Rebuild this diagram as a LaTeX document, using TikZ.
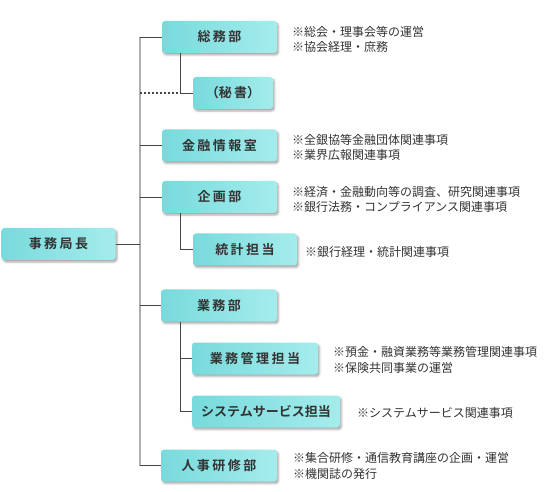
\documentclass[tikz,border=0pt]{standalone}
\usepackage{fontspec}
\newfontfamily\jp[BoldFont={* Bold}]{Noto Sans CJK JP}
\usetikzlibrary{shadows.blur}
\definecolor{boxL}{RGB}{120,218,220}
\definecolor{boxR}{RGB}{165,236,236}
\definecolor{txt}{RGB}{51,51,51}
\definecolor{trunkc}{RGB}{175,175,175}
\definecolor{branchc}{RGB}{70,70,70}
\tikzset{
  orgbox/.style={rounded corners=3pt, left color=boxL, right color=boxR, draw=none,
    minimum height=32pt, inner sep=0pt, text=txt,
    font=\jp\bfseries\fontsize{13}{15}\selectfont,
    blur shadow={shadow xshift=1.5pt, shadow yshift=-2pt, shadow blur radius=2pt, shadow opacity=35}},
  note/.style={anchor=west, align=left, inner sep=0pt, text=txt,
    font=\jp\fontsize{12}{15.5}\selectfont},
  trunk/.style={draw=trunkc, line width=2pt},
  branch/.style={draw=branchc, line width=0.9pt},
  dots/.style={draw=branchc, line width=1.3pt, dash pattern=on 1.6pt off 2.4pt}
}
\newcommand\ks{\kern2.5pt}
\begin{document}
\begin{tikzpicture}[x=1pt,y=-1pt]
\useasboundingbox (0,0) rectangle (555,492);
\coordinate (T) at (140,0);
\coordinate (S) at (180,0);
% boxes
\node[orgbox, minimum width=114pt] (kyoku) at (58.5,244) {事\ks 務\ks 局\ks 長};
\node[orgbox, minimum width=115pt] (somu) at (219.5,37) {総\ks 務\ks 部};
\node[orgbox, minimum width=80pt] (hisho) at (233,93) {（秘\ks 書）};
\node[orgbox, minimum width=115pt] (kinyu) at (219.5,145.5) {金\ks 融\ks 情\ks 報\ks 室};
\node[orgbox, minimum width=115pt] (kikaku) at (219.5,197) {企\ks 画\ks 部};
\node[orgbox, minimum width=104pt] (tokei) at (245,249.5) {統\ks 計\ks 担\ks 当};
\node[orgbox, minimum width=116pt] (gyomu) at (219,305.5) {業\ks 務\ks 部};
\node[orgbox, minimum width=126pt] (kanri) at (255,358.5) {業\ks 務\ks 管\ks 理\ks 担\ks 当};
\node[orgbox, minimum width=148pt] (system) at (266,411.5) {システムサービス担当};
\node[orgbox, minimum width=116pt] (jinji) at (219,465.5) {人\ks 事\ks 研\ks 修\ks 部};
% connectors
\draw[trunk] (T |- somu.west) -- (T |- jinji.west);
\draw[branch] (kyoku.east) -- (kyoku.east -| T);
\foreach \n in {somu,kinyu,kikaku,gyomu,jinji}
  \draw[branch] (\n.west -| T) -- (\n.west);
\draw[branch] (somu.south -| S) -- (S |- hisho.west) -- (hisho.west);
\draw[dots] (hisho.west -| T) -- (hisho.west -| S);
\draw[branch] (kikaku.south -| S) -- (S |- tokei.west) -- (tokei.west);
\draw[branch] (gyomu.south -| S) -- (S |- system.west) -- (system.west);
\draw[branch] (S |- kanri.west) -- (kanri.west);
% notes
\node[note] (n1) at (292,39.5) {※総会・理事会等の運営\\※協会経理・庶務};
\node[note] (n2) at (292,147.5) {※全銀協等金融団体関連事項\\※業界広報関連事項};
\node[note] (n3) at (292,199.5) {※経済・金融動向等の調査、研究関連事項\\※銀行法務・コンプライアンス関連事項};
\node[note] (n4) at (305,252) {※銀行経理・統計関連事項};
\node[note] (n5) at (333,360) {※預金・融資業務等業務管理関連事項\\※保険共同事業の運営};
\node[note] (n6) at (357,413) {※システムサービス関連事項};
\node[note] (n7) at (293,466) {※集合研修・通信教育講座の企画・運営\\※機関誌の発行};
\end{tikzpicture}
\end{document}
